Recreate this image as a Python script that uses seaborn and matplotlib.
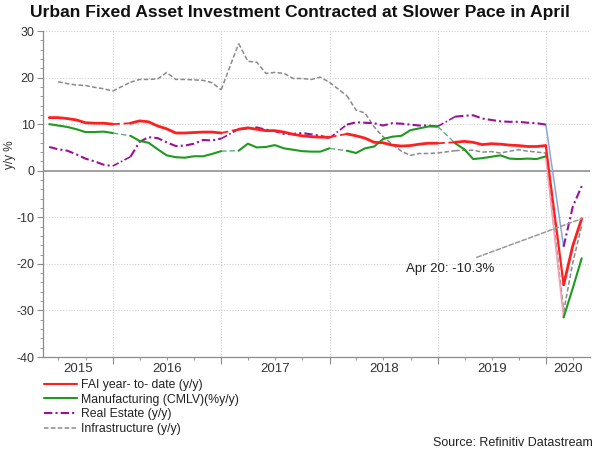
import numpy as np
import pandas as pd
import matplotlib
matplotlib.use("Agg")
import matplotlib.pyplot as plt
import matplotlib.dates as mdates
from matplotlib.lines import Line2D
from matplotlib.ticker import MultipleLocator
import seaborn as sns

nan = np.nan

# ---------------- data (month-end, May 2015 .. Apr 2020; January not published) ----
months = pd.date_range("2015-05-01", "2020-04-01", freq="MS") + pd.offsets.MonthEnd(0)

fai_ytd = [11.4, 11.4, 11.2, 10.9, 10.3, 10.2, 10.2, 10.0,
           nan, 10.2, 10.7, 10.5, 9.6, 9.0, 8.1, 8.1, 8.2, 8.3, 8.3, 8.1,
           nan, 8.9, 9.2, 8.9, 8.6, 8.6, 8.3, 7.8, 7.5, 7.3, 7.2, 7.2,
           nan, 7.9, 7.5, 7.0, 6.1, 6.0, 5.5, 5.3, 5.4, 5.7, 5.9, 5.9,
           nan, 6.1, 6.3, 6.1, 5.6, 5.8, 5.7, 5.5, 5.4, 5.2, 5.2, 5.4,
           nan, -24.5, -16.1, -10.3]

manufacturing = [10.0, 9.7, 9.4, 8.9, 8.3, 8.3, 8.4, 8.1,
                 nan, 7.5, 6.4, 6.0, 4.6, 3.3, 2.9, 2.8, 3.1, 3.1, 3.6, 4.2,
                 nan, 4.3, 5.8, 5.0, 5.1, 5.5, 4.8, 4.5, 4.2, 4.1, 4.1, 4.8,
                 nan, 4.3, 3.8, 4.8, 5.2, 6.8, 7.3, 7.5, 8.7, 9.1, 9.5, 9.5,
                 nan, 5.9, 4.6, 2.5, 2.7, 3.0, 3.3, 2.6, 2.5, 2.6, 2.5, 3.1,
                 nan, -31.5, -25.2, -18.8]

real_estate = [5.1, 4.6, 4.3, 3.5, 2.6, 2.0, 1.3, 1.0,
               nan, 3.0, 6.2, 7.2, 7.0, 6.1, 5.3, 5.4, 5.8, 6.6, 6.5, 6.9,
               nan, 8.9, 9.1, 9.3, 8.8, 8.5, 7.9, 7.9, 8.1, 7.8, 7.5, 7.0,
               nan, 9.9, 10.4, 10.3, 10.2, 9.7, 10.2, 10.1, 9.9, 9.7, 9.7, 9.5,
               nan, 11.6, 11.8, 11.9, 11.2, 10.9, 10.6, 10.5, 10.5, 10.3, 10.2, 9.9,
               nan, -16.3, -7.7, -3.3]

infrastructure = [nan, 19.1, 18.7, 18.4, 18.3, 17.9, 17.6, 17.1,
                  nan, 19.0, 19.6, 19.6, 19.7, 21.1, 19.6, 19.6, 19.5, 19.4, 18.9, 17.4,
                  nan, 27.3, 23.5, 23.3, 20.9, 21.1, 20.9, 19.8, 19.8, 19.6, 20.1, 19.0,
                  nan, 16.1, 13.0, 12.4, 9.4, 7.3, 5.7, 4.2, 3.3, 3.7, 3.7, 3.8,
                  nan, 4.3, 4.4, 4.4, 4.0, 4.1, 3.8, 4.2, 4.5, 4.2, 4.0, 3.8,
                  nan, -30.3, -19.7, -11.8]

series_labels = ["FAI year- to- date (y/y)", "Manufacturing (CMLV)(%y/y)",
                 "Real Estate (y/y)", "Infrastructure (y/y)"]
year_labels = ["2015", "2016", "2017", "2018", "2019", "2020"]
title = "Urban Fixed Asset Investment Contracted at Slower Pace in April"
annotation_text = "Apr 20: -10.3%"
source_text = "Source: Refinitiv Datastream"

# ---------------- styling ----------------
sns.set_theme(style="white")
plt.rcParams["font.family"] = ["Liberation Sans", "DejaVu Sans"]
plt.rcParams["axes.unicode_minus"] = False

RED, GREEN, PURPLE, GREY = "#ff1f1f", "#1e9a1e", "#9a109a", "#8a8a8a"
styles = {
    series_labels[0]: dict(color=RED, lw=2.0, ls="-", z=6,
                           gap=dict(color=RED, lw=1.3, ls=(0, (4, 2))),
                           last=dict(color=RED, lw=1.6, ls="-")),
    series_labels[1]: dict(color=GREEN, lw=1.5, ls="-", z=5,
                           gap=dict(color="#5fae8a", lw=1.0, ls=(0, (4, 2))),
                           last=dict(color="#f6a3b8", lw=1.3, ls="-")),
    series_labels[2]: dict(color=PURPLE, lw=1.5, ls=(0, (4, 1.5, 1, 1.5)), z=4,
                           gap=dict(color=PURPLE, lw=1.2, ls=(0, (4, 1.5, 1, 1.5))),
                           last=dict(color="#86a9dc", lw=1.1, ls="-")),
    series_labels[3]: dict(color=GREY, lw=1.1, ls=(0, (3, 1.5)), z=3,
                           gap=dict(color=GREY, lw=1.1, ls=(0, (3, 1.5))),
                           last=dict(color="#777777", lw=1.2, ls=(0, (3, 1.5)))),
}
all_series = dict(zip(series_labels, [fai_ytd, manufacturing, real_estate, infrastructure]))

fig = plt.figure(figsize=(6.0, 4.51), dpi=100)
ax = fig.add_axes([43 / 600, 1 - 357 / 451, 547 / 600, 326 / 451])
ax.set_facecolor("white")

x_left = pd.Timestamp("2015-05-10")
x_right = pd.Timestamp("2020-05-28")

# grid
for v in range(-40, 31, 10):
    if v != 0:
        ax.axhline(v, color="#d2d2d2", lw=0.8, ls=(0, (1, 1.5)), zorder=0)
for yr in range(2016, 2021):
    ax.axvline(pd.Timestamp(f"{yr}-01-01"), color="#d2d2d2", lw=0.8, ls=(0, (1, 1.5)), zorder=0)
ax.axhline(0, color="#a0a0a0", lw=1.4, zorder=1)

# series
for lab in [series_labels[3], series_labels[2], series_labels[1], series_labels[0]]:
    vals = np.array(all_series[lab], dtype=float)
    st = styles[lab]
    ok = ~np.isnan(vals)
    runs = []
    i = 0
    while i < len(vals):
        if ok[i]:
            j = i
            while j + 1 < len(vals) and ok[j + 1]:
                j += 1
            runs.append((i, j))
            i = j + 1
        else:
            i += 1
    for (a, b) in runs:
        seg = pd.DataFrame({"date": months[a:b + 1], "v": vals[a:b + 1]})
        sns.lineplot(data=seg, x="date", y="v", ax=ax, color=st["color"], lw=st["lw"],
                     linestyle=st["ls"], legend=False, zorder=st["z"], estimator=None)
    for k in range(len(runs) - 1):
        e, s = runs[k][1], runs[k + 1][0]
        gst = st["last"] if k == len(runs) - 2 else st["gap"]
        seg = pd.DataFrame({"date": [months[e], months[s]], "v": [vals[e], vals[s]]})
        sns.lineplot(data=seg, x="date", y="v", ax=ax, color=gst["color"], lw=gst["lw"],
                     linestyle=gst["ls"], legend=False, zorder=st["z"] - 0.5, estimator=None)

# annotation
ax.annotate("", xy=(months[-1], fai_ytd[-1]), xytext=(pd.Timestamp("2019-05-12"), -18.6),
            arrowprops=dict(arrowstyle="-", color="#999999", lw=1.1, linestyle=(0, (3, 1.5)),
                            shrinkA=0, shrinkB=0), zorder=7)
ax.text(pd.Timestamp("2018-09-15"), -21.1, annotation_text, fontsize=9.5, color="#222222",
        ha="left", va="center", zorder=8)

# axes
ax.set_xlim(x_left, x_right)
ax.set_ylim(-40, 30)
ax.set_xlabel("")
ax.set_ylabel("y/y %", fontsize=8.5, color="#333333")
ax.yaxis.set_label_coords(-27 / 547, (357 - 155) / 326)
for sp in ["top", "right"]:
    ax.spines[sp].set_visible(False)
for sp in ["left", "bottom"]:
    ax.spines[sp].set_color("#8c8c8c")
    ax.spines[sp].set_linewidth(0.9)

ax.yaxis.set_major_locator(MultipleLocator(10))
ax.yaxis.set_minor_locator(MultipleLocator(2))
ax.tick_params(axis="y", which="major", direction="out", length=4, width=0.8, color="#8c8c8c",
               labelsize=9, labelcolor="#333333", pad=2, left=True)
ax.tick_params(axis="y", which="minor", direction="out", length=2, width=0.6, color="#8c8c8c", left=True)

ax.xaxis.set_major_locator(mdates.YearLocator())
ax.xaxis.set_minor_locator(mdates.MonthLocator(bymonth=[4, 7, 10]))
ax.xaxis.set_major_formatter(plt.NullFormatter())
ax.tick_params(axis="x", which="major", direction="out", length=5, width=0.8, color="#8c8c8c", bottom=True)
ax.tick_params(axis="x", which="minor", direction="out", length=2, width=0.6, color="#8c8c8c", bottom=True)

# year labels centred in the visible part of each year
for yl in year_labels:
    y0 = max(pd.Timestamp(f"{yl}-01-01"), x_left)
    y1 = min(pd.Timestamp(f"{int(yl) + 1}-01-01"), x_right)
    mid = y0 + (y1 - y0) / 2
    ax.text(mid, -12 / 326, yl, transform=ax.get_xaxis_transform(), ha="center", va="center",
            fontsize=9.5, color="#333333")

fig.text(0.5, 1 - 12 / 451, title, ha="center", va="center", fontsize=12.6,
         fontweight="bold", color="#111111")

handles = []
for lab in series_labels:
    st = styles[lab]
    handles.append(Line2D([], [], color=st["color"], lw=min(st["lw"], 1.5), linestyle=st["ls"]))
fig.legend(handles, series_labels, loc="upper left", bbox_to_anchor=(44 / 600, 1 - 379 / 451),
           frameon=False, fontsize=8.8, handlelength=2.7, handletextpad=0.3, labelspacing=0.22,
           borderpad=0, borderaxespad=0, labelcolor="#222222")

fig.text(593 / 600, 1 - 443 / 451, source_text, ha="right", va="center", fontsize=9, color="#222222")

fig.savefig("out.png", dpi=100, facecolor="white")
